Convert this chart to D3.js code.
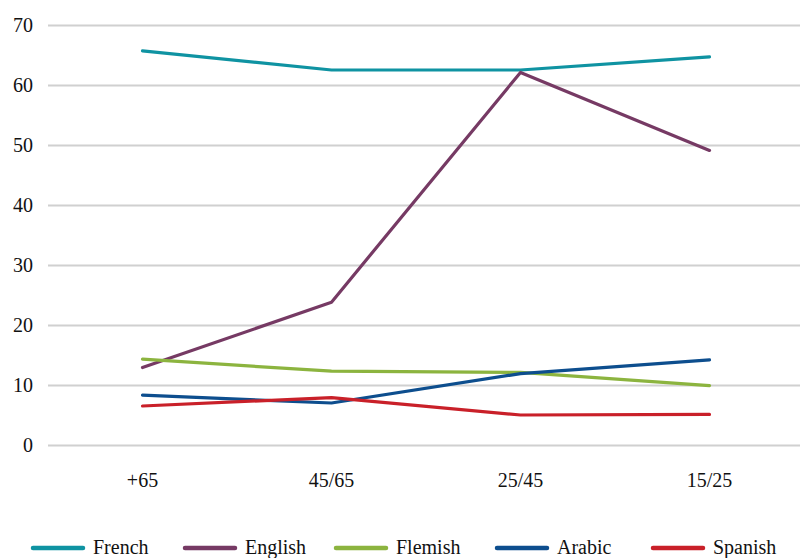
<!DOCTYPE html>
<html>
<head>
<meta charset="utf-8">
<script src="https://cdn.jsdelivr.net/npm/d3@7"></script>
<style>
  body { margin: 0; background: #fff; }
</style>
</head>
<body>
<svg id="svg"></svg>
<script>
// age groups along the x axis
let ageGroups = ["+65", "45/65", "25/45", "15/25"];

// percentage per language, one value per age group
let french  = [65.7, 62.5, 62.5, 64.7];
let english = [12.9, 23.8, 62.1, 49.1];
let flemish = [14.3, 12.3, 12.1, 9.9];
let arabic  = [8.3, 7.0, 11.9, 14.2];
let spanish = [6.5, 7.9, 5.0, 5.1];

let yTicks = [0, 10, 20, 30, 40, 50, 60, 70];

let series = [
  { name: "French",  values: french,  color: "#0f93a2" },
  { name: "English", values: english, color: "#763a64" },
  { name: "Flemish", values: flemish, color: "#8cb43f" },
  { name: "Arabic",  values: arabic,  color: "#0d4e8e" },
  { name: "Spanish", values: spanish, color: "#c92029" }
];

// left edge of each legend swatch
let legendX = [33, 185, 336, 497, 653];

let width = 800, height = 558;

// every label uses the same serif face
function serifText(sel) {
  sel.style("font-family", "Liberation Serif")
     .style("font-size", "20px")
     .attr("fill", "#111");
}

let svg = d3.select("#svg")
            .attr("width", width)
            .attr("height", height);

// scales
let x = d3.scaleBand()
          .domain(ageGroups)
          .range([48, 804]);

let y = d3.scaleLinear()
          .domain([0, 70])
          .range([445, 25]);

// grid lines + y labels
let yAxis = d3.axisLeft(y)
              .tickValues(yTicks)
              .tickSize(-(width - 48))
              .tickPadding(15);

let yg = svg.append("g")
            .attr("transform", "translate(48,0)")
            .call(yAxis);
yg.select(".domain").remove();
yg.selectAll(".tick line")
  .attr("stroke", "#d0d0d0")
  .attr("stroke-width", 2);
yg.selectAll(".tick text")
  .call(serifText)
  .attr("dy", "0.32em");

// x labels
let xAxis = d3.axisBottom(x).tickSize(0).tickPadding(0);
let xg = svg.append("g")
            .attr("transform", "translate(0,470)")
            .call(xAxis);
xg.select(".domain").remove();
xg.selectAll(".tick text")
  .call(serifText)
  .attr("dy", "0.85em");

// lines
let line = d3.line()
             .x(function(d, i) { return x(ageGroups[i]) + x.bandwidth() / 2; })
             .y(function(d) { return y(d); });

svg.append("g")
   .selectAll("path")
   .data(series)
   .enter()
   .append("path")
   .attr("d", function(s) { return line(s.values); })
   .attr("fill", "none")
   .attr("stroke", function(s) { return s.color; })
   .attr("stroke-width", 3.2)
   .attr("stroke-linecap", "round")
   .attr("stroke-linejoin", "round");

// legend
let items = svg.append("g")
               .selectAll("g")
               .data(series)
               .enter()
               .append("g")
               .attr("transform", function(s, i) { return "translate(" + legendX[i] + ",0)"; });

items.append("line")
     .attr("x1", 0).attr("x2", 50)
     .attr("y1", 548).attr("y2", 548)
     .attr("stroke", function(s) { return s.color; })
     .attr("stroke-width", 4.5)
     .attr("stroke-linecap", "round");

items.append("text")
     .attr("x", 60)
     .attr("y", 554)
     .call(serifText)
     .text(function(s) { return s.name; });
</script>
</body>
</html>
